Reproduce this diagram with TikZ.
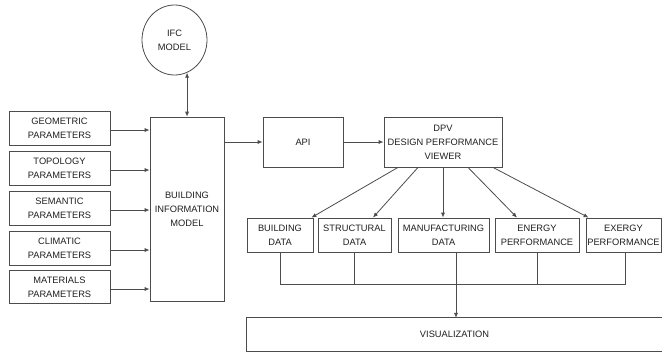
\documentclass[tikz,border=0pt]{standalone}
\usepackage{fontspec}
\setmainfont{Liberation Sans}
\usetikzlibrary{arrows.meta,shapes.geometric}
\tikzset{
  x=1pt, y=-1pt,
  lbl/.style={font=\fontsize{9.3}{14}\selectfont, text=black!88, align=center, inner sep=0pt},
  box/.style={lbl, draw=black!70, line width=0.8pt, rectangle},
  ln/.style={draw=black!70, line width=0.8pt},
  arr/.style={ln, -{Latex[length=5pt,width=4.2pt]}},
  darr/.style={ln, {Latex[length=5pt,width=4.2pt]}-{Latex[length=5pt,width=4.2pt]}},
}
\begin{document}
\begin{tikzpicture}
\useasboundingbox (0,0) rectangle (662,356);
% IFC
\node[lbl, ellipse, draw=black!70, line width=0.8pt, minimum width=65pt, minimum height=70pt] (ifc) at (174.5,40) {IFC\\MODEL};
% parameter boxes
\node[box, minimum width=101pt, minimum height=34pt] (geo) at (59.5,128) {GEOMETRIC\\PARAMETERS};
\node[box, minimum width=101pt, minimum height=34pt] (top) at (59.5,168) {TOPOLOGY\\PARAMETERS};
\node[box, minimum width=101pt, minimum height=34pt] (sem) at (59.5,208) {SEMANTIC\\PARAMETERS};
\node[box, minimum width=101pt, minimum height=34pt] (cli) at (59.5,248) {CLIMATIC\\PARAMETERS};
\node[box, minimum width=101pt, minimum height=33pt] (mat) at (59.5,287) {MATERIALS\\PARAMETERS};
% BIM
\node[box, minimum width=74pt, minimum height=184pt] (bim) at (187,209) {BUILDING\\INFORMATION\\MODEL};
% API, DPV
\node[box, minimum width=80pt, minimum height=50pt] (api) at (303,142) {API};
\node[box, minimum width=118pt, minimum height=50pt] (dpv) at (443,142) {DPV\\DESIGN PERFORMANCE\\VIEWER};
% bottom row
\node[box, minimum width=66pt, minimum height=34pt] (bd) at (280,235) {BUILDING\\DATA};
\node[box, minimum width=73pt, minimum height=34pt] (sd) at (354.5,235) {STRUCTURAL\\DATA};
\node[box, minimum width=91pt, minimum height=34pt] (md) at (443.5,235) {MANUFACTURING\\DATA};
\node[box, minimum width=84pt, minimum height=34pt] (ed) at (537,235) {ENERGY\\PERFORMANCE};
\node[box, minimum width=75pt, minimum height=34pt] (xd) at (623.5,235) {EXERGY\\PERFORMANCE};
% visualization
\node[lbl, minimum width=415pt, minimum height=33pt] (vis) at (454.5,334.5) {VISUALIZATION};
\draw[ln] (vis.north east) -- (vis.north west) -- (vis.south west) -- (vis.south east);
\coordinate (bus) at (0,284.5);
% connectors
\draw[darr] (ifc.-69) -- (ifc.-69 |- bim.north);
\foreach \n in {geo,top,sem,cli,mat}
  \draw[arr] ([yshift=-2pt]\n.east) -- ([yshift=-2pt]\n.east -| bim.west);
\draw[arr] (bim.east |- api.west) -- (api.west);
\draw[arr] (api.east) -- (dpv.west);
\draw[arr] ([xshift=-45pt]dpv.south) -- ([xshift=-2pt]bd.north east);
\draw[arr] ([xshift=-25pt]dpv.south) -- ([xshift=18.5pt]sd.north);
\draw[arr] (dpv.south) -- (dpv.south |- md.north);
\draw[arr] ([xshift=25pt]dpv.south) -- ([xshift=-20pt]ed.north);
\draw[arr] ([xshift=50pt]dpv.south) -- ([xshift=3pt]xd.north west);
\draw[ln] (bd.south) -- (bd.south |- bus) -- ([xshift=1.5pt]xd.south |- bus) -- ([xshift=1.5pt]xd.south);
\draw[ln] (sd.south) -- (sd.south |- bus);
\draw[ln] (ed.south) -- (ed.south |- bus);
\draw[arr] ([xshift=12.5pt]md.south) -- ([xshift=12.5pt]md.south |- vis.north);
\end{tikzpicture}
\end{document}
